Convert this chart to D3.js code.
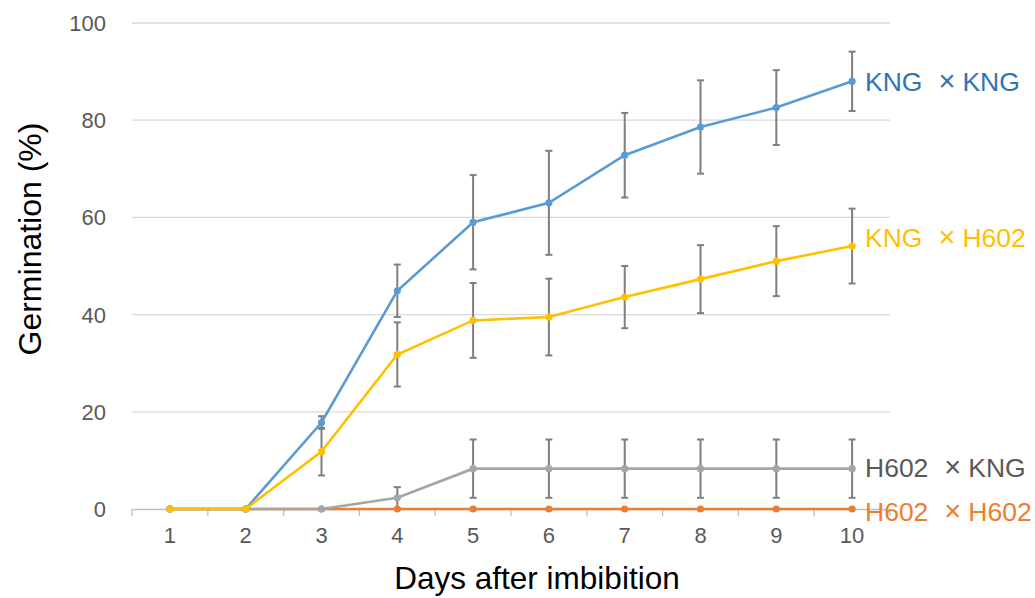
<!DOCTYPE html>
<html>
<head>
<meta charset="utf-8">
<script src="https://cdn.jsdelivr.net/npm/d3@7"></script>
<style>
  body { margin: 0; background: #fff; }
  text { font-family: "Liberation Sans", Arial, sans-serif; }
</style>
</head>
<body>
<svg id="svg" width="1035" height="598"></svg>
<script>
var days = [1, 2, 3, 4, 5, 6, 7, 8, 9, 10];
var yTicks = [0, 20, 40, 60, 80, 100];

// mean germination (%) and error (+/-) per day
var kngKng     = [0, 0, 17.8, 44.9, 59.0, 63.0, 72.8, 78.6, 82.6, 88.0];
var kngKngErr  = [0, 0, 1.3, 5.4, 9.7, 10.7, 8.7, 9.6, 7.7, 6.1];
var kngH602    = [0, 0, 11.8, 31.8, 38.8, 39.5, 43.6, 47.3, 51.0, 54.1];
var kngH602Err = [0, 0, 4.9, 6.6, 7.7, 7.9, 6.4, 7.0, 7.2, 7.7];
var h602Kng    = [0, 0, 0, 2.3, 8.3, 8.3, 8.3, 8.3, 8.3, 8.3];
var h602KngErr = [0, 0, 0, 2.2, 6.0, 6.0, 6.0, 6.0, 6.0, 6.0];
var h602H602   = [0, 0, 0, 0, 0, 0, 0, 0, 0, 0];
var h602H602Err= [0, 0, 0, 0, 0, 0, 0, 0, 0, 0];

var series = [
  {a: "H602", b: "H602", values: h602H602, err: h602H602Err, color: "#ED7D31", label: "#ED7D31", dy: 2},
  {a: "H602", b: "KNG",  values: h602Kng,  err: h602KngErr,  color: "#A5A5A5", label: "#595959", dy: -1},
  {a: "KNG",  b: "KNG",  values: kngKng,   err: kngKngErr,   color: "#5B9BD5", label: "#2E75B6", dy: 0},
  {a: "KNG",  b: "H602", values: kngH602,  err: kngH602Err,  color: "#FFC000", label: "#FFC000", dy: -9}
];

var svg = d3.select("#svg");

var x = d3.scaleBand()
    .domain(days)
    .range([132, 890]);

var y = d3.scaleLinear()
    .domain([0, 100])
    .range([509, 23]);

var cx = function(d) { return x(d) + x.bandwidth() / 2; };

// gridlines
svg.append("g")
  .selectAll("line")
  .data(yTicks.filter(function(t) { return t > 0; }))
  .enter().append("line")
    .attr("x1", 132).attr("x2", 890)
    .attr("y1", function(d) { return y(d); })
    .attr("y2", function(d) { return y(d); })
    .attr("stroke", "#d9d9d9")
    .attr("stroke-width", 1.3);

// y tick labels
svg.append("g")
  .selectAll("text")
  .data(yTicks)
  .enter().append("text")
    .attr("x", 106)
    .attr("y", function(d) { return y(d); })
    .attr("dy", "0.36em")
    .attr("text-anchor", "end")
    .attr("font-size", 22)
    .attr("fill", "#595959")
    .text(function(d) { return d; });

// x axis
var xAxis = svg.append("g")
    .attr("transform", "translate(0," + y(0) + ")")
    .call(d3.axisBottom(x).tickSize(0).tickPadding(18));
xAxis.select(".domain").attr("stroke", "#bfbfbf").attr("stroke-width", 1.3);
xAxis.selectAll("text")
    .attr("font-size", 22)
    .attr("fill", "#595959")
    .attr("font-family", "Liberation Sans, Arial, sans-serif");

xAxis.selectAll(".sep")
  .data(d3.range(days.length + 1))
  .enter().append("line")
    .attr("class", "sep")
    .attr("x1", function(i) { return 132 + i * x.step(); })
    .attr("x2", function(i) { return 132 + i * x.step(); })
    .attr("y1", 0).attr("y2", 7)
    .attr("stroke", "#bfbfbf")
    .attr("stroke-width", 1.3);

// error bars (drawn below lines)
series.forEach(function(s) {
  var g = svg.append("g").attr("stroke", "#7f7f7f").attr("stroke-width", 2);
  days.forEach(function(d, i) {
    if (s.err[i] <= 0) return;
    var hi = y(s.values[i] + s.err[i]), lo = y(Math.max(0, s.values[i] - s.err[i]));
    var xx = cx(d);
    g.append("line").attr("x1", xx).attr("x2", xx).attr("y1", hi).attr("y2", lo);
    g.append("line").attr("x1", xx - 3.5).attr("x2", xx + 3.5).attr("y1", hi).attr("y2", hi);
    if (s.values[i] - s.err[i] > 0)
      g.append("line").attr("x1", xx - 3.5).attr("x2", xx + 3.5).attr("y1", lo).attr("y2", lo);
  });
});

var line = d3.line()
    .x(function(d) { return cx(d[0]); })
    .y(function(d) { return y(d[1]); });

series.forEach(function(s) {
  var pts = days.map(function(d, i) { return [d, s.values[i]]; });
  svg.append("path")
      .datum(pts)
      .attr("fill", "none")
      .attr("stroke", s.color)
      .attr("stroke-width", 2.6)
      .attr("d", line);
  svg.append("g")
    .selectAll("circle")
    .data(pts)
    .enter().append("circle")
      .attr("cx", function(d) { return cx(d[0]); })
      .attr("cy", function(d) { return y(d[1]); })
      .attr("r", 3.6)
      .attr("fill", s.color);

  // end label
  var t = svg.append("text")
      .attr("x", 865)
      .attr("y", y(s.values[9]) + s.dy)
      .attr("dy", "0.36em")
      .attr("font-size", 26.5)
      .attr("fill", s.label);
  t.append("tspan").text(s.a);
  t.append("tspan").attr("dx", 16).attr("font-size", 29).text("\u00d7");
  t.append("tspan").attr("dx", 7).text(s.b);
});

// axis titles
svg.append("text")
    .attr("transform", "translate(41," + 239 + ") rotate(-90)")
    .attr("text-anchor", "middle")
    .attr("font-size", 32)
    .attr("fill", "#000")
    .text("Germination (%)");

svg.append("text")
    .attr("x", 537)
    .attr("y", 589)
    .attr("text-anchor", "middle")
    .attr("font-size", 31.5)
    .attr("fill", "#000")
    .text("Days after imbibition");
</script>
</body>
</html>
